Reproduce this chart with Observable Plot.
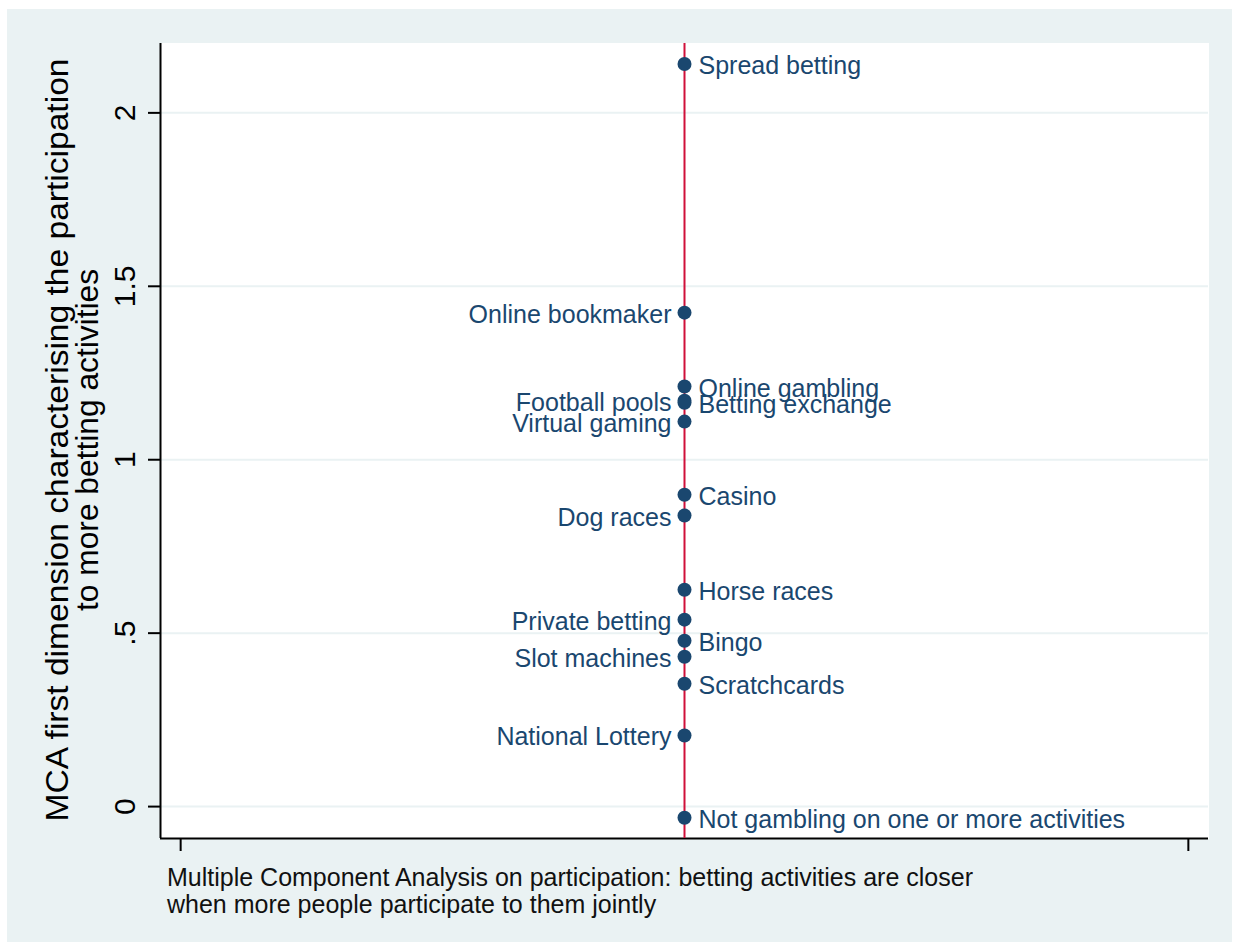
<!DOCTYPE html>
<html>
<head>
<meta charset="utf-8">
<script src="https://cdn.jsdelivr.net/npm/d3@7"></script>
<script src="https://cdn.jsdelivr.net/npm/@observablehq/plot@0.6"></script>
<style>
  html, body { margin: 0; padding: 0; background: #ffffff; }
  #bg { position: absolute; left: 7px; top: 9px; width: 1225px; height: 933px; background: #EAF2F3; }
  #chart { position: absolute; left: 0; top: 0; }
  #caption { position: absolute; left: 167px; top: 864px; font-family: "Liberation Sans", Arial, sans-serif;
             font-size: 25px; line-height: 27px; color: #111111; white-space: nowrap; }
</style>
</head>
<body>
<div id="bg"></div>
<div id="chart"></div>
<div id="caption"></div>
<script>
// ---- data ----
const activities = [
  "Spread betting", "Online bookmaker", "Online gambling", "Football pools",
  "Betting exchange", "Virtual gaming", "Casino", "Dog races", "Horse races",
  "Private betting", "Bingo", "Slot machines", "Scratchcards", "National Lottery",
  "Not gambling on one or more activities"
];
const mcaScores = [
  2.141, 1.424, 1.211, 1.170,
  1.164, 1.110, 0.899, 0.839, 0.625,
  0.539, 0.478, 0.432, 0.354, 0.205,
  -0.032
];
// activities whose label sits on the left of the marker (Stata mlabpos 9)
const leftLabelled = [
  "Online bookmaker", "Football pools", "Virtual gaming", "Dog races",
  "Private betting", "Slot machines", "National Lottery"
];
const yTicks = [0, 0.5, 1, 1.5, 2];
const yTickLabels = ["0", ".5", "1", "1.5", "2"];
const xTicks = [-1, 1];
const yTitle = "MCA first dimension characterising the participation\nto more betting activities";
const captionLines = [
  "Multiple Component Analysis on participation: betting activities are closer",
  "when more people participate to them jointly"
];

// ---- chart ----
const yDomain = [-0.092, 2.2];
const xDomain = [-1.04, 1.04];
const navy = "#1a476f";
const bgColor = "#EAF2F3";
const font = "'Liberation Sans', Arial, sans-serif";

const data = activities.map((a, i) => ({
  activity: a, score: mcaScores[i], x: 0, left: leftLabelled.includes(a)
}));

const chart = Plot.plot({
  width: 1239,
  height: 860,
  marginLeft: 160,
  marginTop: 43,
  marginRight: 31,
  marginBottom: 22,
  style: { background: "transparent", fontFamily: font, color: "#000" },
  x: { domain: xDomain },
  y: { domain: yDomain },
  marks: [
    Plot.frame({ fill: "white", stroke: "white" }),
    Plot.gridY(yTicks, { stroke: bgColor, strokeOpacity: 1, strokeWidth: 2 }),
    Plot.ruleX([xDomain[0]], { stroke: "black", strokeWidth: 2 }),
    Plot.ruleY([yDomain[0]], { stroke: "black", strokeWidth: 2 }),
    Plot.axisY(yTicks, { tickSize: 12, strokeWidth: 2, tickFormat: () => "", label: null }),
    Plot.text(yTicks, {
      y: d => d, text: d => yTickLabels[yTicks.indexOf(d)], frameAnchor: "left",
      dx: -26, rotate: -90, textAnchor: "middle", lineAnchor: "bottom",
      fontSize: 30, fill: "black"
    }),
    Plot.axisX(xTicks, { tickSize: 13, strokeWidth: 2, tickFormat: () => "", label: null }),
    Plot.text([yTitle], {
      frameAnchor: "left", dx: -87, dy: -1, rotate: -90, textAnchor: "middle", lineAnchor: "middle",
      fontSize: 31, lineHeight: 0.97, fill: "black", className: "ytitle"
    }),
    Plot.ruleX([0], { stroke: "#d0103a", strokeWidth: 2 }),
    Plot.dot(data, { x: "x", y: "score", r: 7, fill: navy, stroke: "none" }),
    Plot.text(data.filter(d => !d.left), {
      x: "x", y: "score", text: "activity", textAnchor: "start", dx: 14, dy: 2,
      fontSize: 25, fill: navy
    }),
    Plot.text(data.filter(d => d.left), {
      x: "x", y: "score", text: "activity", textAnchor: "end", dx: -13, dy: 2,
      fontSize: 25, fill: navy
    })
  ]
});
// Stata draws the rotated title a little wider-spaced: stretch each line to its measured length
const titleLengths = [763, 342];
d3.select(chart).selectAll(".ytitle tspan").each(function (_, i) {
  if (titleLengths[i]) {
    this.setAttribute("textLength", titleLengths[i]);
    this.setAttribute("lengthAdjust", "spacingAndGlyphs");
  }
});
document.getElementById("chart").appendChild(chart);
document.getElementById("caption").innerHTML = captionLines.join("<br>");
</script>
</body>
</html>
